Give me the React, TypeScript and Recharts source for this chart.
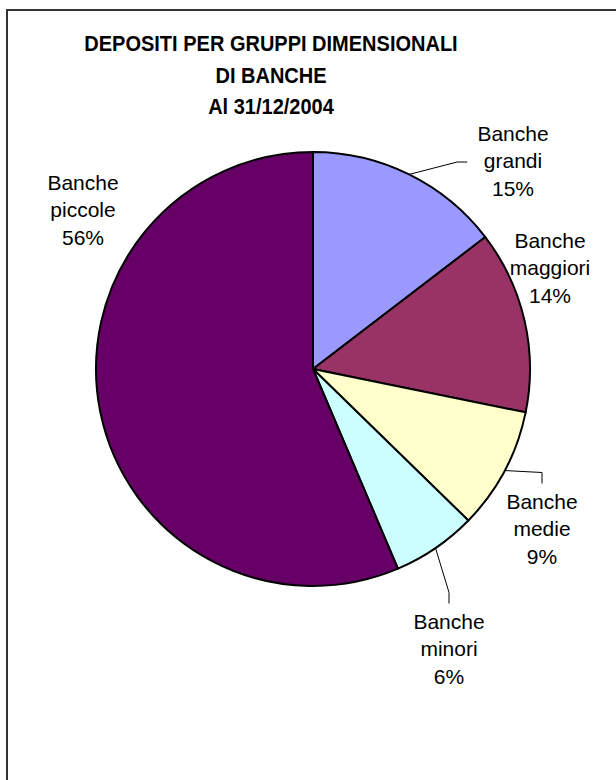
import React from 'react';
import { PieChart, Pie, Cell } from 'recharts';

const categories = ['Banche grandi', 'Banche maggiori', 'Banche medie', 'Banche minori', 'Banche piccole'];
const shares = [14.6, 13.6, 9.1, 6.3, 56.4];
const sliceColors = ['#9999FF', '#993366', '#FFFFCC', '#CCFFFF', '#660066'];
const titleLines = ['DEPOSITI PER GRUPPI DIMENSIONALI', 'DI BANCHE', 'Al 31/12/2004'];

// dove l'utente ha trascinato le etichette (offset dal centro della torta, baseline della riga centrale)
const labelSpots = [
  { dx: 200, dy: -201, leader: 'left' },
  { dx: 237, dy: -94, leader: 'none' },
  { dx: 229, dy: 167, leader: 'top' },
  { dx: 136, dy: 287, leader: 'top' },
  { dx: -230, dy: -152, leader: 'none' },
];

const data = categories.map((name, i) => ({ name, value: shares[i] }));

const FONT = 'Arial, "Liberation Sans", sans-serif';
const RAD = Math.PI / 180;
const LINE_GAP = 27.5;

function renderLabel(props: any) {
  const { cx, cy, midAngle, outerRadius, percent, index, name } = props;
  const spot = labelSpots[index];
  const x = cx + spot.dx;
  const y = cy + spot.dy;
  const words = String(name).split(' ');
  const lines = [words[0], words.slice(1).join(' '), `${Math.round(percent * 100)}%`];

  let path = null;
  if (spot.leader !== 'none') {
    const sx = cx + outerRadius * Math.cos(-midAngle * RAD);
    const sy = cy + outerRadius * Math.sin(-midAngle * RAD);
    let ex: number, ey: number, kx: number, ky: number;
    if (spot.leader === 'left') {
      const w = lines[1].length * 5.8;
      ex = x - w - 11;
      ey = y - 6;
      kx = ex - 10;
      ky = ey;
    } else {
      ex = x;
      ey = y - LINE_GAP - 25;
      kx = x;
      ky = ey - 11;
    }
    path = (
      <polyline
        points={`${sx},${sy} ${kx},${ky} ${ex},${ey}`}
        fill="none"
        stroke="#000"
        strokeWidth={1}
      />
    );
  }

  return (
    <g key={`lab-${index}`}>
      {path}
      {lines.map((t, k) => (
        <text
          key={k}
          x={x}
          y={y + (k - 1) * LINE_GAP}
          textAnchor="middle"
          fill="#000"
          fontSize={21}
          fontFamily={FONT}
        >
          {t}
        </text>
      ))}
    </g>
  );
}

export default function App() {
  return (
    <div style={{ position: 'fixed', left: 0, top: 0, width: 616, height: 780, background: '#fff', overflow: 'hidden' }}>
      <div
        style={{
          position: 'absolute',
          left: 6,
          top: 9,
          width: 800,
          height: 1000,
          borderTop: '2px solid #333',
          borderLeft: '2px solid #333',
        }}
      />
      <div
        style={{
          position: 'absolute',
          left: 0,
          top: 27,
          width: 542,
          textAlign: 'center',
          fontFamily: FONT,
          fontWeight: 'bold',
          fontSize: 20,
          lineHeight: '32px',
          color: '#000',
          transform: 'scaleY(1.12)',
          transformOrigin: '0 0',
        }}
      >
        {titleLines.map((t) => (
          <div key={t} style={{ height: 28.6, lineHeight: '28.6px' }}>{t}</div>
        ))}
      </div>
      <div style={{ position: 'absolute', left: 0, top: 0 }}>
        <PieChart width={616} height={780}>
          <Pie
            data={data}
            dataKey="value"
            nameKey="name"
            cx={308}
            cy={364}
            outerRadius={217}
            startAngle={90}
            endAngle={-270}
            stroke="#000"
            strokeWidth={2}
            label={renderLabel}
            labelLine={false}
            isAnimationActive={false}
          >
            {data.map((d, i) => (
              <Cell key={d.name} fill={sliceColors[i]} />
            ))}
          </Pie>
        </PieChart>
      </div>
    </div>
  );
}
